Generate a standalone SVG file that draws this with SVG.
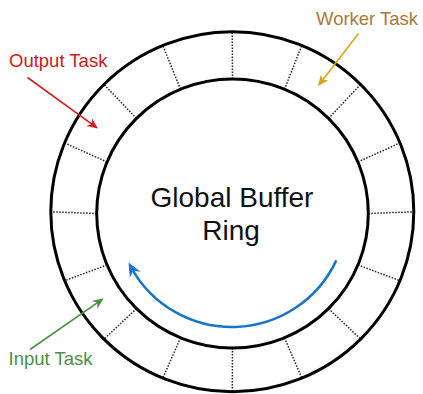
<svg xmlns="http://www.w3.org/2000/svg" width="423" height="394" viewBox="0 0 423 394">
  <style>
    .ring { fill: none; stroke: #000; stroke-width: 3; }
    .slot { stroke: #222; stroke-width: 1.5; stroke-dasharray: 1.5 1.5; }
    .title { font-family: "Liberation Sans", Arial, sans-serif; font-size: 28px; fill: #111; text-anchor: middle; }
    .label { font-family: "Liberation Sans", Arial, sans-serif; font-size: 18.5px; }
    .ptr { fill: none; stroke-width: 1.6; }
  </style>
  <defs>
    <marker id="head-red" viewBox="-12 -6 14 12" refX="-2" refY="0" markerWidth="14" markerHeight="12" markerUnits="userSpaceOnUse" orient="auto">
      <path d="M0,0 L-11,-4.8 L-7.5,0 L-11,4.8 Z" fill="#d42020"/>
    </marker>
    <marker id="head-gold" viewBox="-12 -6 14 12" refX="-2" refY="0" markerWidth="14" markerHeight="12" markerUnits="userSpaceOnUse" orient="auto">
      <path d="M0,0 L-11,-4.8 L-7.5,0 L-11,4.8 Z" fill="#d9a514"/>
    </marker>
    <marker id="head-green" viewBox="-12 -6 14 12" refX="-2" refY="0" markerWidth="14" markerHeight="12" markerUnits="userSpaceOnUse" orient="auto">
      <path d="M0,0 L-11,-4.8 L-7.5,0 L-11,4.8 Z" fill="#4a8f3f"/>
    </marker>
    <marker id="head-blue" viewBox="-15 -7 17 14" refX="-6" refY="0" markerWidth="17" markerHeight="14" markerUnits="userSpaceOnUse" orient="auto">
      <path d="M0,0 L-14,-6.2 L-9.5,0 L-14,6.2 Z" fill="#1a74c9"/>
    </marker>
  </defs>

  <rect width="423" height="394" fill="#fff"/>

  <!-- slot dividers between the two rings, every 22.5 degrees -->
  <g id="slots">
    <line class="slot" x1="368.3" y1="213.5" x2="413.8" y2="211.8"/>
    <line class="slot" x1="358.0" y1="265.0" x2="400.0" y2="280.7"/>
    <line class="slot" x1="328.5" y1="308.6" x2="360.6" y2="339.1"/>
    <line class="slot" x1="284.5" y1="337.8" x2="301.8" y2="378.1"/>
    <line class="slot" x1="232.5" y1="348.0" x2="232.3" y2="391.8"/>
    <line class="slot" x1="180.5" y1="337.8" x2="162.8" y2="378.1"/>
    <line class="slot" x1="136.5" y1="308.6" x2="104.0" y2="339.1"/>
    <line class="slot" x1="107.0" y1="265.0" x2="64.6" y2="280.7"/>
    <line class="slot" x1="96.7" y1="213.5" x2="50.8" y2="211.8"/>
    <line class="slot" x1="107.0" y1="162.0" x2="64.6" y2="142.9"/>
    <line class="slot" x1="136.5" y1="118.4" x2="104.0" y2="84.5"/>
    <line class="slot" x1="180.5" y1="89.2" x2="162.8" y2="45.5"/>
    <line class="slot" x1="232.5" y1="79.0" x2="232.3" y2="31.8"/>
    <line class="slot" x1="284.5" y1="89.2" x2="301.8" y2="45.5"/>
    <line class="slot" x1="328.5" y1="118.4" x2="360.6" y2="84.5"/>
    <line class="slot" x1="358.0" y1="162.0" x2="400.0" y2="142.9"/>
  </g>

  <!-- the buffer ring -->
  <g id="ring">
    <ellipse class="ring" cx="232.3" cy="211.8" rx="181.5" ry="180"/>
    <ellipse class="ring" cx="232.5" cy="213.5" rx="135.8" ry="134.5"/>
    <text class="title" x="232" y="206.5">Global Buffer</text>
    <text class="title" x="231" y="239.5">Ring</text>
  </g>

  <!-- direction of travel -->
  <g id="rotation">
    <path d="M336.3,260.4 A115,115 0 0 1 131.4,267.8" fill="none" stroke="#1a74c9" stroke-width="2.5" marker-end="url(#head-blue)"/>
  </g>

  <g id="output-task">
    <text class="label" x="9" y="67" fill="#cc1a1a">Output Task</text>
  </g>
  <g id="worker-task">
    <text class="label" x="316" y="25" fill="#a8793a">Worker Task</text>
  </g>
  <g id="input-task">
    <text class="label" x="8.5" y="365" fill="#4a8f3f">Input Task</text>
  </g>

  <g id="connectors">
    <line class="ptr" x1="27.5" y1="77.5" x2="96.4" y2="127.3" stroke="#d42020" marker-end="url(#head-red)"/>
    <line class="ptr" x1="358.5" y1="33.5" x2="319.2" y2="84.4" stroke="#d9a514" marker-end="url(#head-gold)"/>
    <line class="ptr" x1="30" y1="349.5" x2="101.9" y2="299.6" stroke="#4a8f3f" marker-end="url(#head-green)"/>
  </g>
</svg>
